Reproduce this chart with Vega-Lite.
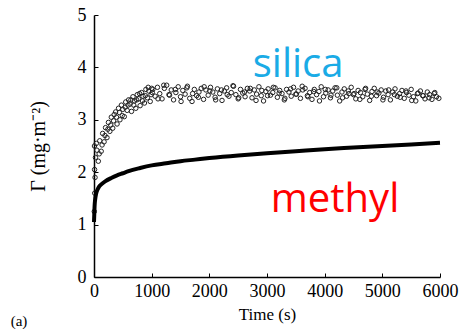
{
  "$schema": "https://vega.github.io/schema/vega-lite/v6.json",
  "width": 346,
  "height": 262,
  "autosize": {"type": "none"},
  "padding": {"left": 94, "top": 15, "right": 26, "bottom": 52},
  "background": "white",
  "config": {
    "view": {"stroke": null},
    "axis": {
      "domainColor": "black",
      "domainWidth": 1.5,
      "tickColor": "black",
      "tickSize": -4,
      "tickWidth": 1,
      "grid": false,
      "labelFont": "Liberation Serif",
      "labelFontSize": 18,
      "labelColor": "black",
      "titleFont": "Liberation Serif",
      "titleFontSize": 17,
      "titleFontWeight": "normal",
      "titleColor": "black"
    }
  },
  "layer": [
    {
      "data": {"values": [
        {"t": 5, "v": 1.25}, {"t": 12, "v": 1.6}, {"t": 18, "v": 1.9}, {"t": 10, "v": 2.05}, {"t": 8, "v": 2.5},
        {"t": 25, "v": 2.28}, {"t": 50, "v": 2.42}, {"t": 75, "v": 2.21}, {"t": 100, "v": 2.60}, {"t": 125, "v": 2.40},
        {"t": 150, "v": 2.74}, {"t": 175, "v": 2.58}, {"t": 200, "v": 2.85}, {"t": 225, "v": 2.66}, {"t": 250, "v": 2.95},
        {"t": 275, "v": 2.78}, {"t": 300, "v": 3.05}, {"t": 325, "v": 2.84}, {"t": 350, "v": 3.10}, {"t": 375, "v": 3.15},
        {"t": 400, "v": 2.92}, {"t": 425, "v": 3.22}, {"t": 450, "v": 3.00}, {"t": 475, "v": 3.28}, {"t": 500, "v": 3.20},
        {"t": 525, "v": 3.06}, {"t": 550, "v": 3.34}, {"t": 575, "v": 3.18}, {"t": 600, "v": 3.38}, {"t": 625, "v": 3.30},
        {"t": 650, "v": 3.16}, {"t": 675, "v": 3.44}, {"t": 700, "v": 3.36}, {"t": 725, "v": 3.22}, {"t": 750, "v": 3.48},
        {"t": 775, "v": 3.40}, {"t": 800, "v": 3.27}, {"t": 825, "v": 3.52}, {"t": 850, "v": 3.45}, {"t": 875, "v": 3.32},
        {"t": 900, "v": 3.58}, {"t": 925, "v": 3.42}, {"t": 950, "v": 3.55}, {"t": 975, "v": 3.35}, {"t": 1000, "v": 3.60},
        {"t": 40, "v": 2.55}, {"t": 90, "v": 2.35}, {"t": 140, "v": 2.52}, {"t": 190, "v": 2.70}, {"t": 240, "v": 2.82},
        {"t": 290, "v": 2.90}, {"t": 340, "v": 2.98}, {"t": 390, "v": 3.05}, {"t": 440, "v": 3.14}, {"t": 490, "v": 3.08},
        {"t": 540, "v": 3.24}, {"t": 590, "v": 3.28}, {"t": 640, "v": 3.38}, {"t": 690, "v": 3.28}, {"t": 740, "v": 3.38},
        {"t": 790, "v": 3.50}, {"t": 840, "v": 3.36}, {"t": 890, "v": 3.46}, {"t": 940, "v": 3.62}, {"t": 990, "v": 3.48},
        {"t": 1020, "v": 3.58}, {"t": 1060, "v": 3.45}, {"t": 1100, "v": 3.62}, {"t": 1140, "v": 3.50}, {"t": 1180, "v": 3.40},
        {"t": 1220, "v": 3.60}, {"t": 1260, "v": 3.66}, {"t": 1300, "v": 3.48}, {"t": 1340, "v": 3.57}, {"t": 1380, "v": 3.38},
        {"t": 1420, "v": 3.52}, {"t": 1460, "v": 3.63}, {"t": 1500, "v": 3.44}, {"t": 1540, "v": 3.56}, {"t": 1580, "v": 3.49},
        {"t": 1620, "v": 3.64}, {"t": 1660, "v": 3.41}, {"t": 1700, "v": 3.35}, {"t": 1740, "v": 3.58}, {"t": 1780, "v": 3.46},
        {"t": 1820, "v": 3.53}, {"t": 1860, "v": 3.60}, {"t": 1900, "v": 3.39}, {"t": 1940, "v": 3.57}, {"t": 1980, "v": 3.47},
        {"t": 2020, "v": 3.62}, {"t": 2060, "v": 3.53}, {"t": 2100, "v": 3.43}, {"t": 2140, "v": 3.59}, {"t": 2180, "v": 3.50},
        {"t": 2220, "v": 3.37}, {"t": 2260, "v": 3.55}, {"t": 2300, "v": 3.61}, {"t": 2340, "v": 3.45}, {"t": 2380, "v": 3.52},
        {"t": 2420, "v": 3.64}, {"t": 2460, "v": 3.48}, {"t": 2500, "v": 3.40}, {"t": 2540, "v": 3.58}, {"t": 2580, "v": 3.51},
        {"t": 2620, "v": 3.44}, {"t": 2660, "v": 3.60}, {"t": 2700, "v": 3.55}, {"t": 2740, "v": 3.42}, {"t": 2780, "v": 3.57},
        {"t": 2820, "v": 3.49}, {"t": 2860, "v": 3.63}, {"t": 2900, "v": 3.46}, {"t": 2940, "v": 3.36}, {"t": 2980, "v": 3.54},
        {"t": 3020, "v": 3.59}, {"t": 3060, "v": 3.47}, {"t": 3100, "v": 3.52}, {"t": 3140, "v": 3.61}, {"t": 3180, "v": 3.43},
        {"t": 3220, "v": 3.56}, {"t": 3260, "v": 3.50}, {"t": 3300, "v": 3.38}, {"t": 3340, "v": 3.58}, {"t": 3380, "v": 3.53},
        {"t": 3420, "v": 3.45}, {"t": 3460, "v": 3.62}, {"t": 3500, "v": 3.49}, {"t": 3540, "v": 3.55}, {"t": 3580, "v": 3.41},
        {"t": 3620, "v": 3.57}, {"t": 3660, "v": 3.60}, {"t": 3700, "v": 3.46}, {"t": 3740, "v": 3.52}, {"t": 3780, "v": 3.39},
        {"t": 3820, "v": 3.58}, {"t": 3860, "v": 3.48}, {"t": 3900, "v": 3.54}, {"t": 3940, "v": 3.63}, {"t": 3980, "v": 3.44},
        {"t": 4020, "v": 3.51}, {"t": 4060, "v": 3.57}, {"t": 4100, "v": 3.42}, {"t": 4140, "v": 3.55}, {"t": 4180, "v": 3.61},
        {"t": 4220, "v": 3.47}, {"t": 4260, "v": 3.36}, {"t": 4300, "v": 3.53}, {"t": 4340, "v": 3.59}, {"t": 4380, "v": 3.45},
        {"t": 4420, "v": 3.50}, {"t": 4460, "v": 3.62}, {"t": 4500, "v": 3.48}, {"t": 4540, "v": 3.40}, {"t": 4580, "v": 3.56},
        {"t": 4620, "v": 3.52}, {"t": 4660, "v": 3.44}, {"t": 4700, "v": 3.58}, {"t": 4740, "v": 3.49}, {"t": 4780, "v": 3.37},
        {"t": 4820, "v": 3.54}, {"t": 4860, "v": 3.60}, {"t": 4900, "v": 3.46}, {"t": 4940, "v": 3.51}, {"t": 4980, "v": 3.57},
        {"t": 5020, "v": 3.43}, {"t": 5060, "v": 3.55}, {"t": 5100, "v": 3.48}, {"t": 5140, "v": 3.38}, {"t": 5180, "v": 3.53},
        {"t": 5220, "v": 3.59}, {"t": 5260, "v": 3.45}, {"t": 5300, "v": 3.50}, {"t": 5340, "v": 3.56}, {"t": 5380, "v": 3.41},
        {"t": 5420, "v": 3.52}, {"t": 5460, "v": 3.47}, {"t": 5500, "v": 3.58}, {"t": 5540, "v": 3.44}, {"t": 5580, "v": 3.36},
        {"t": 5620, "v": 3.51}, {"t": 5660, "v": 3.55}, {"t": 5700, "v": 3.46}, {"t": 5740, "v": 3.40}, {"t": 5780, "v": 3.53},
        {"t": 5820, "v": 3.48}, {"t": 5860, "v": 3.39}, {"t": 5900, "v": 3.50}, {"t": 5940, "v": 3.44}, {"t": 5980, "v": 3.41},
        {"t": 1010, "v": 3.52}, {"t": 1110, "v": 3.40}, {"t": 1210, "v": 3.66}, {"t": 1310, "v": 3.47}, {"t": 1410, "v": 3.58},
        {"t": 1510, "v": 3.35}, {"t": 1610, "v": 3.61}, {"t": 1710, "v": 3.50}, {"t": 1810, "v": 3.43}, {"t": 1910, "v": 3.63},
        {"t": 2010, "v": 3.55}, {"t": 2110, "v": 3.38}, {"t": 2210, "v": 3.57}, {"t": 2310, "v": 3.48}, {"t": 2410, "v": 3.65},
        {"t": 2510, "v": 3.42}, {"t": 2610, "v": 3.53}, {"t": 2710, "v": 3.60}, {"t": 2810, "v": 3.37}, {"t": 2910, "v": 3.56},
        {"t": 3010, "v": 3.46}, {"t": 3110, "v": 3.62}, {"t": 3210, "v": 3.51}, {"t": 3310, "v": 3.41}, {"t": 3410, "v": 3.59},
        {"t": 3510, "v": 3.49}, {"t": 3610, "v": 3.64}, {"t": 3710, "v": 3.44}, {"t": 3810, "v": 3.54}, {"t": 3910, "v": 3.36},
        {"t": 4010, "v": 3.58}, {"t": 4110, "v": 3.47}, {"t": 4210, "v": 3.61}, {"t": 4310, "v": 3.42}, {"t": 4410, "v": 3.55},
        {"t": 4510, "v": 3.50}, {"t": 4610, "v": 3.39}, {"t": 4710, "v": 3.60}, {"t": 4810, "v": 3.45}, {"t": 4910, "v": 3.53},
        {"t": 5010, "v": 3.38}, {"t": 5110, "v": 3.57}, {"t": 5210, "v": 3.48}, {"t": 5310, "v": 3.43}, {"t": 5410, "v": 3.55},
        {"t": 5510, "v": 3.37}, {"t": 5610, "v": 3.50}, {"t": 5710, "v": 3.46}, {"t": 5810, "v": 3.42}, {"t": 5910, "v": 3.52}
      ]},
      "mark": {"type": "point", "shape": "circle", "filled": false, "size": 20, "stroke": "#222", "strokeWidth": 1, "opacity": 1},
      "encoding": {
        "x": {"field": "t", "type": "quantitative", "scale": {"domain": [0, 6000], "nice": false},
              "axis": {"title": "Time (s)", "format": "d", "values": [0, 1000, 2000, 3000, 4000, 5000, 6000], "labelPadding": 9, "titlePadding": 6, "labelFlush": false}},
        "y": {"field": "v", "type": "quantitative", "scale": {"domain": [0, 5], "nice": false},
              "axis": {"title": "Γ (mg·m⁻²)", "titleFontSize": 20, "format": "d", "values": [0, 1, 2, 3, 4, 5], "labelPadding": 12, "titlePadding": 29, "labelFlush": false}}
      }
    },
    {
      "data": {"values": [
        {"t": 0, "v": 1.05}, {"t": 5, "v": 1.2}, {"t": 10, "v": 1.35}, {"t": 20, "v": 1.48}, {"t": 35, "v": 1.58},
        {"t": 50, "v": 1.64}, {"t": 75, "v": 1.70}, {"t": 100, "v": 1.74}, {"t": 150, "v": 1.79}, {"t": 200, "v": 1.83},
        {"t": 300, "v": 1.89}, {"t": 400, "v": 1.94}, {"t": 500, "v": 1.98}, {"t": 600, "v": 2.02}, {"t": 800, "v": 2.08},
        {"t": 1000, "v": 2.13}, {"t": 1250, "v": 2.17}, {"t": 1500, "v": 2.21}, {"t": 1750, "v": 2.24}, {"t": 2000, "v": 2.27},
        {"t": 2500, "v": 2.32}, {"t": 3000, "v": 2.36}, {"t": 3500, "v": 2.40}, {"t": 4000, "v": 2.44}, {"t": 4500, "v": 2.47},
        {"t": 5000, "v": 2.50}, {"t": 5500, "v": 2.53}, {"t": 6000, "v": 2.56}
      ]},
      "mark": {"type": "line", "color": "black", "strokeWidth": 4, "interpolate": "monotone"},
      "encoding": {
        "x": {"field": "t", "type": "quantitative"},
        "y": {"field": "v", "type": "quantitative"}
      }
    },
    {
      "data": {"values": [{}]},
      "mark": {"type": "text", "text": "silica", "font": "Open Sans", "fontSize": 40, "color": "#1AABE6", "align": "center", "baseline": "alphabetic"},
      "encoding": {"x": {"datum": 3540}, "y": {"datum": 3.82}}
    },
    {
      "data": {"values": [{}]},
      "mark": {"type": "text", "text": "methyl", "font": "Open Sans", "fontSize": 40, "color": "#FF0000", "align": "center", "baseline": "alphabetic"},
      "encoding": {"x": {"datum": 4180}, "y": {"datum": 1.25}}
    },
    {
      "data": {"values": [{}]},
      "mark": {"type": "text", "text": "(a)", "font": "Liberation Serif", "fontSize": 15, "color": "black", "align": "center", "baseline": "middle"},
      "encoding": {"x": {"datum": -1300}, "y": {"datum": -0.84}}
    }
  ]
}
